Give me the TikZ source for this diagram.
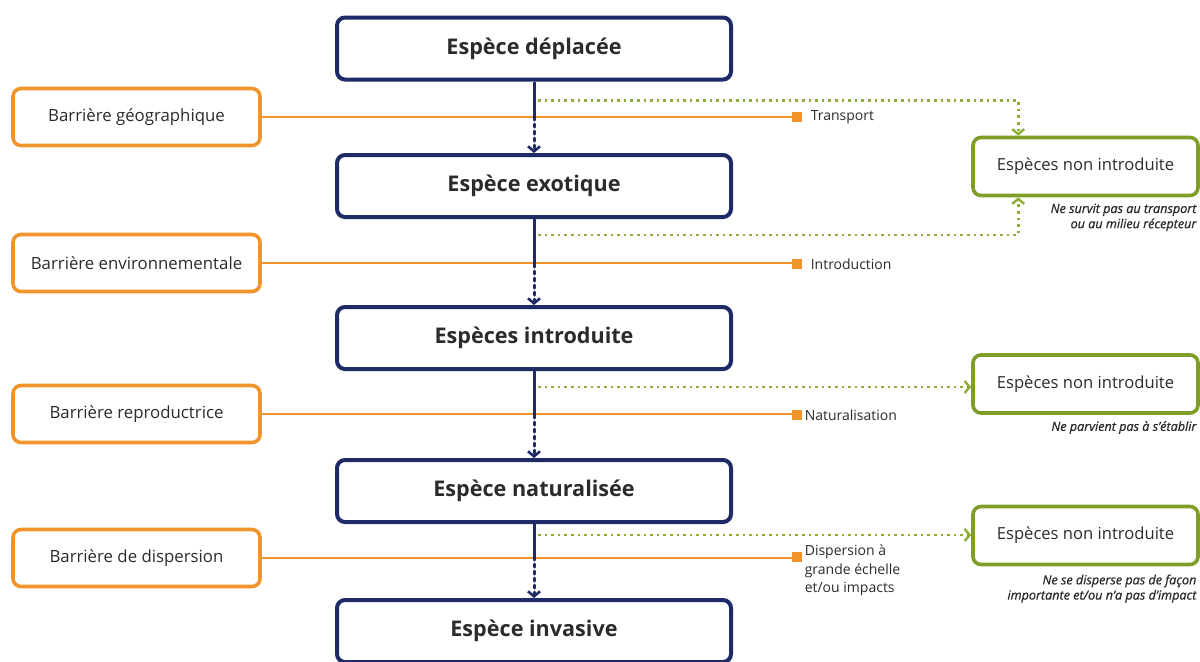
\documentclass[tikz,border=0pt]{standalone}
\usepackage{fontspec}
\setmainfont{Open Sans}
\usetikzlibrary{arrows.meta,positioning,calc}

\definecolor{navy}{HTML}{1F2B66}
\definecolor{barrier}{HTML}{F0952C}
\definecolor{leaf}{HTML}{7E9E28}
\definecolor{leafdot}{HTML}{8DAE35}
\definecolor{ink}{HTML}{2B2B2B}

\tikzset{
  stagebox/.style={draw=navy, line width=2pt, rounded corners=4pt, fill=white,
    minimum width=197pt, minimum height=31pt, font=\fontsize{10.8}{12}\selectfont\bfseries, text=ink},
  barrierbox/.style={draw=barrier, line width=1.8pt, rounded corners=4pt, fill=white,
    minimum width=123.5pt, minimum height=28.5pt, font=\fontsize{8.4}{10}\selectfont, text=ink},
  failbox/.style={draw=leaf, line width=1.8pt, rounded corners=4pt, fill=white,
    minimum width=112.5pt, minimum height=29pt, font=\fontsize{8.3}{10}\selectfont, text=ink},
  barrierline/.style={draw=barrier, line width=1.2pt},
  marker/.style={fill=barrier, minimum size=5pt, inner sep=0pt},
  steplabel/.style={font=\fontsize{7}{9.2}\selectfont, text=ink, anchor=west, align=left, inner sep=0pt},
  caption/.style={font=\fontsize{6.3}{7.6}\selectfont\itshape\addfontfeature{FakeBold=0.8}, text=ink, anchor=north east, align=right, inner sep=0pt},
  flowsolid/.style={draw=navy, line width=1.5pt},
  flowdot/.style={draw=navy, line width=1.5pt, dotted, line cap=round,
    -{Straight Barb[length=2.5pt,width=6pt,line width=1.3pt]}},
  faildot/.style={draw=leafdot, line width=1.3pt, dotted,
    -{Straight Barb[length=2.5pt,width=6pt,line width=1.2pt]}},
}

\begin{document}
\begin{tikzpicture}[x=0.5pt,y=-0.5pt]
\clip (0,0) rectangle (1200,661);
\fill[white] (0,0) rectangle (1200,661);

% stages of the invasion process
\node[stagebox] (s1) at (534,48.5) {Espèce déplacée};
\node[stagebox] (s2) at (534,186) {Espèce exotique};
\node[stagebox] (s3) at (534,338) {Espèces introduite};
\node[stagebox] (s4) at (534,491) {Espèce naturalisée};
\node[stagebox] (s5) at (534,631) {Espèce invasive};

% barriers
\node[barrierbox] (b1) at (136.5,117) {Barrière géographique};
\node[barrierbox] (b2) at (136.5,263) {Barrière environnementale};
\node[barrierbox] (b3) at (136.5,414) {Barrière reproductrice};
\node[barrierbox] (b4) at (136.5,558) {Barrière de dispersion};

% species that do not pass
\node[failbox] (f1) at (1085.5,166.5) {Espèces non introduite};
\node[failbox] (f2) at (1085.5,384) {Espèces non introduite};
\node[failbox] (f3) at (1085.5,535.5) {Espèces non introduite};

\node[caption] (c1) at ([xshift=-1.5pt,yshift=-3pt]f1.south east) {Ne survit pas au transport\\ou au milieu récepteur};
\node[caption] (c2) at ([xshift=-1.5pt,yshift=-3pt]f2.south east) {Ne parvient pas à s'établir};
\node[caption] (c3) at ([xshift=-1.5pt,yshift=-4pt]f3.south east) {Ne se disperse pas de façon\\importante et/ou n'a pas d'impact};

% barrier lines ending on square markers
\node[marker] (m1) at (797,117) {};
\node[marker] (m2) at (797,264) {};
\node[marker] (m3) at (797,415) {};
\node[marker] (m4) at (797,557) {};
\node[steplabel] (l1) at ([xshift=4pt]m1.east) {Transport};
\node[steplabel] (l2) at ([xshift=4pt]m2.east) {Introduction};
\node[steplabel] (l3) at ([xshift=1pt]m3.east) {Naturalisation};
\node[steplabel,anchor=north west] (l4) at ([xshift=1pt,yshift=3.5pt]m4.north east) {Dispersion à\\grande échelle\\et/ou impacts};

\foreach \i in {1,...,4}{
  \draw[barrierline] (b\i.east) -- (b\i.east -| m\i.west);
}

% main flow: solid down to the barrier, dotted past it
\foreach \a/\b/\m in {s1/s2/m1, s2/s3/m2, s3/s4/m3, s4/s5/m4}{
  \coordinate (x\a) at (\a.south |- \m);
  \draw[flowsolid] (\a.south) -- (x\a);
  \draw[flowdot] (x\a) -- (\b.north);
}

% branches towards the failure outcomes
\coordinate (g1) at ($(s1.south)+(0,19)$);
\coordinate (g2) at ($(s2.south)+(0,16)$);
\coordinate (g3) at ($(s3.south)+(0,16)$);
\coordinate (g4) at ($(s4.south)+(0,11)$);
\draw[faildot] ([xshift=2pt]g1) -| ([xshift=23.5pt]f1.north west);
\draw[faildot] ([xshift=2pt]g2) -| ([xshift=23.5pt]f1.south west);
\draw[faildot] ([xshift=2pt]g3) -- (g3 -| f2.west);
\draw[faildot] ([xshift=2pt]g4) -- (g4 -| f3.west);
\end{tikzpicture}
\end{document}
